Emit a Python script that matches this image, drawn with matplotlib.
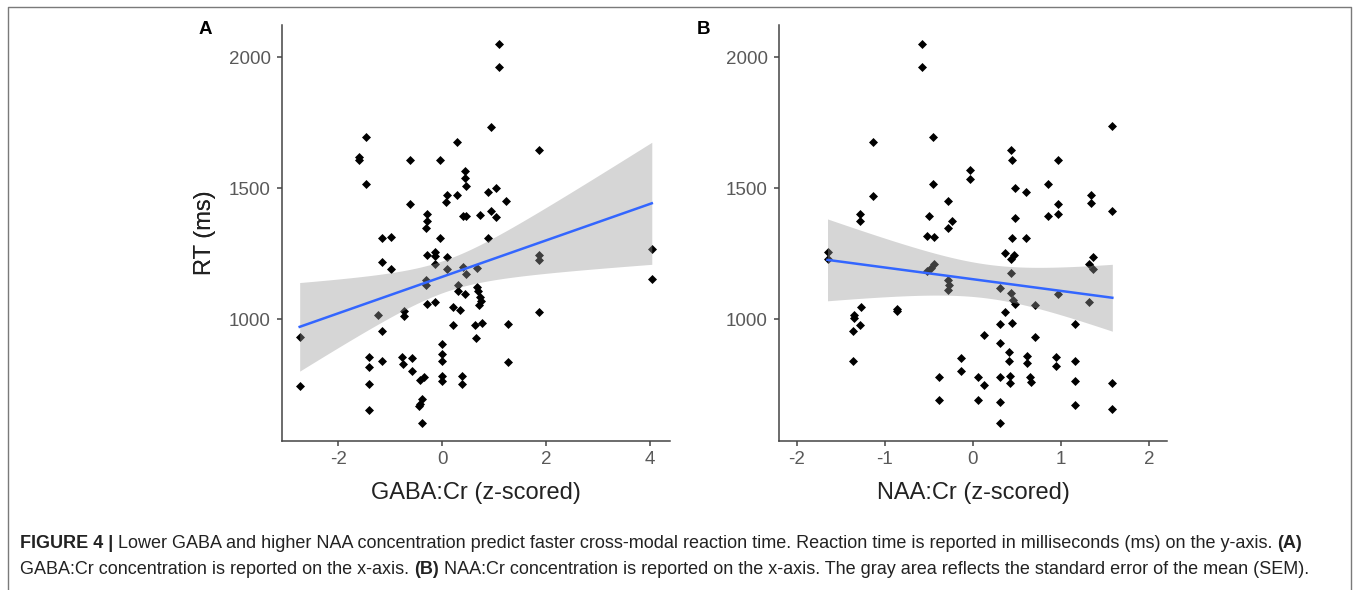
#%%
import numpy as np
import matplotlib
matplotlib.use("Agg")
from matplotlib import pyplot as plt

plt.rcParams['font.family'] = ['Liberation Sans', 'DejaVu Sans']
plt.rcParams['axes.unicode_minus'] = False

#%% values
gaba_z = [1.09, 1.09, -1.47, -1.60, -1.60, -1.47, -0.62, -0.05, 0.28, 0.94,
          0.44, 0.44, 0.45, -0.62, -0.30, -0.30, -0.32, 0.10, 0.08, 0.28,
          0.40, 0.45, 0.72, 0.88, 1.04, 0.94, 1.03, -1.15, -0.99, -0.05,
          0.88, 1.22, 1.86, 1.86, 1.86, 4.03, 4.03, 1.86, 1.26, 1.26,
          -1.15, -0.99, -0.13, -0.13, -0.13, -0.30, 0.10, 0.10, 0.40, 0.45,
          0.66, -0.32, -0.32, 0.31, 0.31, 0.44, 0.66, 0.68, 0.72, 0.75,
          0.71, -0.30, -0.14, 0.21, 0.34, -1.24, -0.74, -0.73, 0.21, 0.63,
          0.76, 0.65, -2.74, -1.15, 0.00, -0.01, 0.00, -1.40, -1.40, -1.15,
          -0.78, -0.76, -0.58, -0.58, -0.43, -0.35, 0.00, 0.00, 0.39, 0.39,
          -1.40, -2.74, -0.38, -0.42, -0.44, -1.40, -0.38]
gaba_rt = [2051, 1964, 1697, 1621, 1608, 1517, 1606, 1606, 1678, 1735,
           1567, 1538, 1510, 1439, 1401, 1375, 1347, 1475, 1446, 1475,
           1392, 1392, 1398, 1484, 1500, 1414, 1390, 1310, 1313, 1309,
           1309, 1453, 1644, 1245, 1225, 1268, 1154, 1027, 981, 838,
           1219, 1190, 1257, 1240, 1212, 1244, 1238, 1190, 1200, 1174,
           1197, 1151, 1130, 1130, 1107, 1098, 1123, 1107, 1085, 1069,
           1053, 1057, 1064, 1047, 1034, 1015, 1030, 1013, 977, 977,
           986, 930, 933, 954, 905, 869, 840, 856, 818, 841,
           856, 828, 850, 802, 767, 780, 784, 763, 784, 752,
           754, 746, 697, 678, 669, 653, 604]

naa_z = [-0.58, -0.58, -1.13, -0.45, -1.13, -0.45, -0.28, -1.28, -1.28, -0.50,
         -0.24, -0.28, -0.52, -0.44, -1.65, -1.65, -0.52, -0.48, -0.44, -0.28,
         -0.27, -0.28, -1.27, -1.35, -1.35, -1.28, -1.36, -0.86, -0.86, -1.36,
         -0.39, -0.39, -0.14, -0.14, 1.58, 0.43, 0.44, 0.96, -0.03, -0.03,
         0.48, 0.60, 0.85, 0.96, 0.96, 0.85, 1.34, 1.34, 1.58, 0.48,
         0.44, 0.60, 0.36, 0.47, 0.43, 1.36, 1.32, 1.36, 0.43, 0.31,
         0.43, 0.45, 0.48, 0.70, 0.96, 1.32, 0.36, 0.31, 0.44, 0.12,
         0.70, 1.16, 0.31, 0.41, 0.41, 0.61, 0.61, 0.94, 0.94, 1.16,
         0.06, 0.12, 0.31, 0.42, 0.42, 0.65, 0.66, 1.16, 1.58, 0.06,
         0.31, 1.16, 1.58, 0.31]
naa_rt = [2051, 1964, 1676, 1697, 1472, 1517, 1453, 1401, 1373, 1392,
          1373, 1347, 1316, 1313, 1257, 1228, 1185, 1197, 1210, 1149,
          1130, 1111, 1047, 1015, 1005, 977, 954, 1038, 1030, 840,
          780, 693, 850, 803, 1738, 1646, 1608, 1608, 1570, 1536,
          1500, 1485, 1515, 1439, 1401, 1394, 1475, 1445, 1414, 1388,
          1309, 1309, 1252, 1246, 1229, 1239, 1211, 1191, 1178, 1119,
          1099, 1074, 1057, 1055, 1096, 1065, 1027, 981, 987, 938,
          932, 981, 908, 874, 839, 858, 832, 855, 820, 839,
          778, 750, 781, 784, 756, 779, 762, 765, 756, 692,
          683, 671, 657, 603]

xticks_a = [-2, 0, 2, 4]
xticks_b = [-2, -1, 0, 1, 2]
yticks = [1000, 1500, 2000]
xlabels = ["GABA:Cr (z-scored)", "NAA:Cr (z-scored)"]
panel_tags = ["A", "B"]

cap_line1 = [("FIGURE 4 | ", "bold"),
             ("Lower GABA and higher NAA concentration predict faster cross-modal reaction time. "
              "Reaction time is reported in milliseconds (ms) on the y-axis. ", "normal"),
             ("(A)", "bold")]
cap_line2 = [("GABA:Cr concentration is reported on the x-axis. ", "normal"),
             ("(B)", "bold"),
             (" NAA:Cr concentration is reported on the x-axis. The gray area reflects "
              "the standard error of the mean (SEM).", "normal")]


#%% linear fit + 95% band, like geom_smooth(method="lm")
def lm_band(x, y, xs):
    x = np.asarray(x, float)
    y = np.asarray(y, float)
    n = len(x)
    b, a = np.polyfit(x, y, 1)
    s = np.sqrt(np.sum((y - (a + b * x)) ** 2) / (n - 2))
    sxx = np.sum((x - x.mean()) ** 2)
    se = s * np.sqrt(1.0 / n + (xs - x.mean()) ** 2 / sxx)
    fit = a + b * xs
    return fit, fit - 1.985 * se, fit + 1.985 * se


#%%
fig = plt.figure(figsize=(13.58, 5.90), dpi=100)
W, H = 1358.0, 590.0

bg = fig.add_axes([0, 0, 1, 1], zorder=-1)
bg.axis("off")
bg.set_xlim(0, W)
bg.set_ylim(H, 0)
# frame round the figure (open at the bottom)
bg.plot([8, 8, 1350.5, 1350.5], [590, 7, 7, 590], color="#7a7a7a", lw=1.0)

axes_px = [(282, 670, -3.08, 4.38, xticks_a), (779, 1167, -2.2, 2.2, xticks_b)]
data = [(gaba_z, gaba_rt), (naa_z, naa_rt)]

for i, (x0, x1, lo, hi, xt) in enumerate(axes_px):
    ax = fig.add_axes([x0 / W, 1 - 441 / H, (x1 - x0) / W, (441 - 25) / H])
    xz, rt = data[i]
    ax.scatter(xz, rt, marker="D", s=21, color="black", linewidths=0, zorder=2)
    xs = np.linspace(min(xz), max(xz), 100)
    fit, low, up = lm_band(xz, rt, xs)
    ax.fill_between(xs, low, up, color="#999999", alpha=0.4, lw=0, zorder=3)
    ax.plot(xs, fit, color="#3366FF", lw=1.8, zorder=4)

    ax.set_xlim(lo, hi)
    ax.set_ylim(535, 2123)
    ax.set_xticks(xt)
    ax.set_yticks(yticks)
    for side in ["top", "right"]:
        ax.spines[side].set_visible(False)
    for side in ["left", "bottom"]:
        ax.spines[side].set_color("#444444")
        ax.spines[side].set_linewidth(1.1)
    ax.tick_params(color="#444444", width=1.1, length=3.5, labelsize=13.5,
                   labelcolor="#595959")
    ax.tick_params(axis="y", pad=4.5)
    ax.tick_params(axis="x", pad=4)
    ax.set_xlabel(xlabels[i], fontsize=17, color="#222222", va="center")
    ax.xaxis.set_label_coords(0.5, -0.125)
    ax.set_ylabel("RT (ms)", fontsize=17, color="#222222", va="center")
    ax.yaxis.set_label_coords((205 - x0) / (x1 - x0), 0.5)

    fig.text([205.5, 703][i] / W, 1 - 30 / H, panel_tags[i], fontsize=13.5,
             fontweight="bold", ha="center", va="center")


#%% caption, bold and plain pieces chained one after another
def caption_line(parts, y):
    t = bg.text(20, y, parts[0][0], fontsize=13, fontweight=parts[0][1],
                color="#222222", ha="left", va="center")
    for s, w in parts[1:]:
        t = bg.annotate(s, xy=(1, 0), xycoords=t, fontsize=13, fontweight=w,
                        color="#222222", ha="left", va="bottom")


caption_line(cap_line1, 544)
caption_line(cap_line2, 569)

fig.savefig("out.png", dpi=100)
